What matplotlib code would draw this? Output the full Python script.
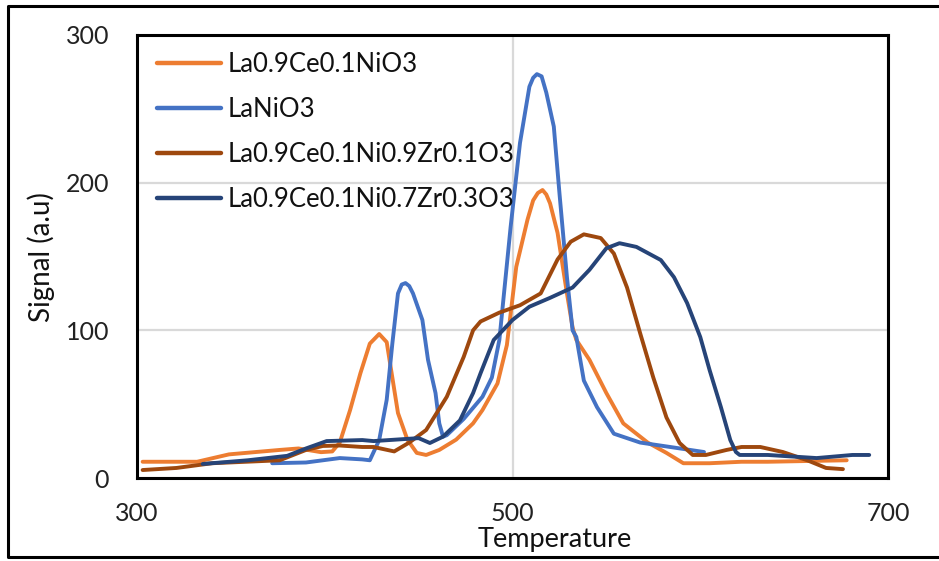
import matplotlib
matplotlib.use("Agg")
import matplotlib.pyplot as plt
from matplotlib.lines import Line2D
from matplotlib import font_manager

# ---- data ----
series_names = ["La0.9Ce0.1NiO3", "LaNiO3", "La0.9Ce0.1Ni0.9Zr0.1O3", "La0.9Ce0.1Ni0.7Zr0.3O3"]
series_colors = ["#ED7D31", "#4472C4", "#9E480E", "#264478"]

x_orange = [303, 332, 349, 376, 386, 398, 404, 408, 413.5, 419, 424, 429, 433, 436, 439, 444,
            449, 454, 461, 470, 479, 484, 492, 497, 502, 508, 511, 513.5, 516, 518, 520, 524,
            529, 532, 534, 541, 550, 559, 572, 582, 591, 605, 622, 636, 678]
y_orange = [11, 11, 16, 19, 20, 17.5, 18, 24, 46, 71, 91, 97.5, 92, 68, 44, 26,
            17, 15.6, 19, 26, 37, 46, 64, 90, 143, 175, 188, 193, 195, 192, 186, 166,
            125, 102, 93.5, 80, 57.5, 37, 24, 17, 10, 10, 11, 11, 12]

x_blue = [372, 390, 408, 420, 424, 429, 433, 436, 439, 441, 443, 445, 447, 452, 455, 459, 461,
          463, 465, 474, 484, 489, 493, 499, 504, 509, 511, 513, 515.5, 518, 522, 525, 529, 532,
          534, 538, 545, 554, 568, 584, 602]
y_blue = [10, 10.5, 13.5, 12.6, 12, 25.7, 53, 91, 125, 131, 132, 130, 125, 107, 80, 57.5, 37,
          28, 29, 40, 55, 68, 93.5, 170, 227, 265, 271, 273.5, 272, 261, 238, 193, 136, 100,
          95.5, 66, 48, 30, 24, 21, 17.6]

x_brown = [303, 321, 340, 376, 390, 399, 408, 420, 426, 437, 445, 454, 465, 474, 479, 483, 493,
           504, 515, 524, 531, 538, 547, 554, 561, 568, 575, 582, 589, 596, 603, 614, 622, 632,
           644, 657, 667, 676]
y_brown = [5.4, 6.8, 10, 12, 19, 21.7, 22, 21, 21, 18, 24, 32.5, 55, 82, 100, 106, 112,
           117, 125, 148, 160, 165, 162.5, 152, 129, 98, 68, 41, 23.7, 15.6, 15.6, 19, 21, 21,
           17.6, 12, 6.8, 6]

x_navy = [335, 359, 380, 390, 401, 420, 426, 450, 456, 463, 472, 479, 483, 490, 500, 509, 520,
          532, 541, 550, 557, 566, 579, 586, 593, 600, 605, 611, 616, 619, 621, 636, 662, 681, 690]
y_navy = [9.5, 12, 15, 20, 25, 25.7, 25, 27, 23.7, 28, 39, 57.5, 71, 93.5, 107, 116, 122,
          129, 141, 155.6, 159, 156.5, 147.6, 136, 118.5, 95.5, 73, 48, 25.7, 17.6, 15.6, 15.6,
          13.5, 15.6, 15.6]

x_ticks = [300, 500, 700]
y_ticks = [0, 100, 200, 300]
x_label = "Temperature"
y_label = "Signal (a.u)"

# ---- fonts ----
def have(name):
    try:
        font_manager.findfont(name, fallback_to_default=False)
        return True
    except Exception:
        return False

main_font = "Lato" if have("Lato") else "DejaVu Sans"
plt.rcParams["font.family"] = [main_font, "DejaVu Sans"]

W, H = 939, 561
fig = plt.figure(figsize=(W / 100, H / 100), dpi=100)
L, R, T, B = 137, 888, 35, 478
ax = fig.add_axes([L / W, 1 - B / H, (R - L) / W, (B - T) / H])

xs = [x_orange, x_blue, x_brown, x_navy]
ys = [y_orange, y_blue, y_brown, y_navy]
for xv, yv, nm, c in zip(xs, ys, series_names, series_colors):
    ax.plot(xv, yv, color=c, lw=2.8, label=nm, solid_joinstyle="round", solid_capstyle="round")

ax.set_xlim(300, 700)
ax.set_ylim(0, 300)
ax.set_xticks(x_ticks)
ax.set_yticks(y_ticks)
ax.grid(True, color="#d9d9d9", lw=1.6)
ax.set_axisbelow(True)
for s in ax.spines.values():
    s.set_color("black")
    s.set_linewidth(2.2)
ax.tick_params(length=0, labelsize=18, colors="#222222", pad=20)
ax.tick_params(axis="x", pad=17)

fig.text(555 / W, 1 - 539 / H, x_label, ha="center", va="center", fontsize=19.5, color="#111111")
fig.text(41 / W, 1 - 257 / H, y_label, ha="center", va="center", rotation=90, fontsize=20,
         color="#111111")

leg = ax.legend(loc="upper left", bbox_to_anchor=((157 - L) / (R - L), (B - 52) / (B - T)),
                frameon=False, fontsize=18.5, handlelength=2.5, handletextpad=0.25,
                labelspacing=0.78, borderaxespad=0, borderpad=0)
for t in leg.get_texts():
    t.set_color("#111111")
for h in leg.get_lines():
    h.set_linewidth(3.2)

# outer frame
fig.add_artist(Line2D([1.01, 8 / W, 8 / W, 1.01], [1 - 6 / H, 1 - 6 / H, 1 - 557 / H, 1 - 557 / H],
                      transform=fig.transFigure, color="black", lw=2.2))

fig.savefig("out.png", dpi=100)
